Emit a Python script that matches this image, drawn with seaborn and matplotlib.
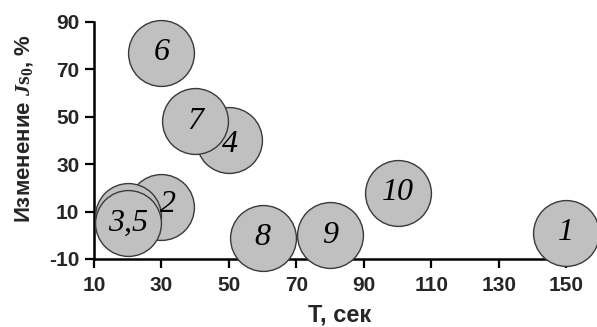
import matplotlib
matplotlib.use("Agg")
import matplotlib.pyplot as plt
import seaborn as sns
import pandas as pd

# Data
T_sec = [150, 30, 20, 50, 20, 30, 40, 60, 80, 100]
change_pct = [1, 12, 8, 40, 5, 77, 48, -1, 0, 18]
point_labels = ["1", "2", "", "4", "3,5", "6", "7", "8", "9", "10"]
x_ticks = [10, 30, 50, 70, 90, 110, 130, 150]
y_ticks = [-10, 10, 30, 50, 70, 90]

sns.set_theme(style="ticks")
plt.rcParams["font.family"] = ["Liberation Sans", "DejaVu Sans"]
plt.rcParams["axes.unicode_minus"] = False
plt.rcParams["mathtext.fontset"] = "custom"
plt.rcParams["mathtext.rm"] = "Liberation Serif"
plt.rcParams["mathtext.it"] = "Liberation Serif:italic"
plt.rcParams["mathtext.bf"] = "Liberation Serif:bold"
try:
    plt.rcParams["mathtext.bfit"] = "Liberation Serif:italic:bold"
    bfit = True
except Exception:
    bfit = False

df = pd.DataFrame({"T": T_sec, "chg": change_pct, "lab": point_labels})

fig = plt.figure(figsize=(5.97, 3.27), dpi=100)
ax = fig.add_axes([0.1575, 0.208, 0.791, 0.725])

sns.scatterplot(data=df, x="T", y="chg", ax=ax, s=2250, color="#c0c0c0",
                edgecolor="#3a3a3a", linewidth=1.0, clip_on=False, zorder=3,
                legend=False)

# small label nudges (points) to mimic original placement
nudge = {"2": (5, 2), "4": (1, -3)}
for _, r in df.iterrows():
    if r["lab"]:
        dx, dy = nudge.get(r["lab"], (0, 0))
        ax.annotate(r["lab"], (r["T"], r["chg"]), xytext=(dx, dy),
                    textcoords="offset points", ha="center", va="center",
                    family="Liberation Serif", style="italic", fontsize=23,
                    color="black", zorder=5, annotation_clip=False)

ax.set_xlim(10, 150)
ax.set_ylim(-10, 90)
ax.set_xticks(x_ticks)
ax.set_yticks(y_ticks)
ax.tick_params(axis="both", direction="out", length=6.5, width=1.6,
               color="black", labelsize=15)
ax.tick_params(axis="x", pad=6)
ax.tick_params(axis="y", pad=4)
for lab in ax.get_xticklabels() + ax.get_yticklabels():
    lab.set_fontweight("bold")
sns.despine(ax=ax)
for sp in ["left", "bottom"]:
    ax.spines[sp].set_linewidth(1.8)
    ax.spines[sp].set_color("black")

ax.set_xlabel("Т, сек", fontsize=17, fontweight="bold")
if bfit:
    ylab = r"Изменение $\mathbfit{J}\mathbf{s}_\mathbf{0}$, %"
else:
    ylab = r"Изменение $\mathbf{Js}_\mathbf{0}$, %"
ax.set_ylabel(ylab, fontsize=16, fontweight="bold")
ax.xaxis.label.set_va("center")
ax.yaxis.label.set_va("center")
ax.xaxis.set_label_coords(0.519, -0.236)
ax.yaxis.set_label_coords(-0.148, 0.549)

fig.savefig("out.png", dpi=100)
